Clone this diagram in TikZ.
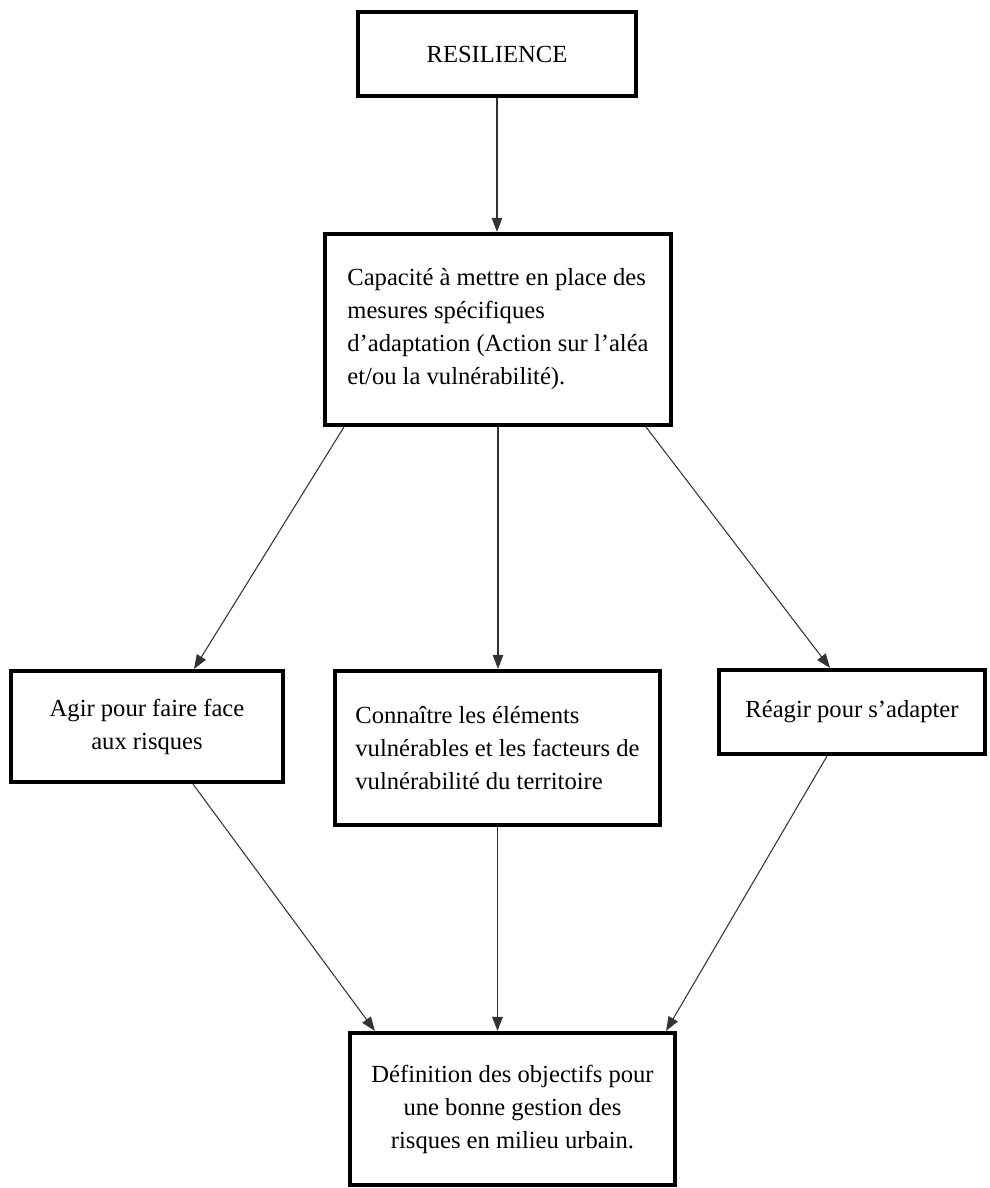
\documentclass[tikz,border=0pt]{standalone}
\usepackage{fontspec}
\setmainfont{Liberation Serif}
\usetikzlibrary{arrows.meta,calc}
\begin{document}
\begin{tikzpicture}[x=0.02cm, y=-0.02cm,
    boite/.style={draw=black, line width=2.4pt, fill=white, inner sep=0pt,
      font=\fontsize{14pt}{18.8pt}\selectfont},
    fleche/.style={draw=black!80, line width=0.6pt,
      -{Triangle[length=8pt, width=6pt]}}]
  \useasboundingbox (0,0) rectangle (990,1188);
  % --- top -----------------------------------------------------
  \node[boite, minimum width=5.56cm, minimum height=1.68cm] (res) at (497,54) {RESILIENCE};
  \node[boite, minimum width=6.92cm, minimum height=3.82cm, align=left] (capa) at (498,329.5)
    {Capacité à mettre en place des\\ mesures spécifiques\\ d’adaptation (Action sur l’aléa\\ et/ou la vulnérabilité).};
  % --- middle row ----------------------------------------------
  \node[boite, minimum width=5.44cm, minimum height=2.22cm, align=center] (agir) at (147,726.5)
    {Agir pour faire face\\ aux risques};
  \node[boite, minimum width=6.5cm, minimum height=3.08cm, align=left] (conn) at (497.5,748)
    {Connaître les éléments\\ vulnérables et les facteurs de\\ vulnérabilité du territoire};
  \node[boite, minimum width=5.32cm, minimum height=1.68cm] (reag) at (852,712)
    {Réagir pour s’adapter};
  % --- bottom --------------------------------------------------
  \node[boite, minimum width=6.5cm, minimum height=3.04cm, align=center] (defi) at (512.5,1109)
    {Définition des objectifs pour\\ une bonne gestion des\\ risques en milieu urbain.};
  % --- arrows --------------------------------------------------
  \draw[fleche] (res.south) -- (res.south |- capa.north);
  \draw[fleche] ($(capa.south west)+(21,0)$) -- ($(agir.north)+(47,0)$);
  \draw[fleche] (capa.south) -- (capa.south |- conn.north);
  \draw[fleche] ($(capa.south east)+(-27,0)$) -- ($(reag.north)+(-22,0)$);
  \draw[fleche] ($(agir.south)+(46,0)$) -- ($(defi.north west)+(27,0)$);
  \draw[fleche] (conn.south) -- (conn.south |- defi.north);
  \draw[fleche] ($(reag.south)+(-25,0)$) -- ($(defi.north east)+(-11,0)$);
\end{tikzpicture}
\end{document}
